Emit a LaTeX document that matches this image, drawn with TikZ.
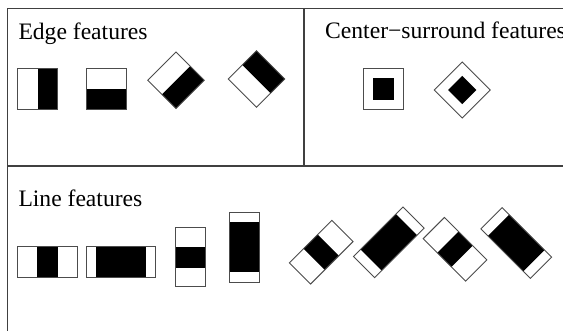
\documentclass[tikz,border=0pt]{standalone}
\usepackage{fontspec}
\setmainfont{Liberation Serif}
\begin{document}
\begin{tikzpicture}[x=1pt,y=-1pt,
  frame/.style={draw=black!75,line width=1.4pt},
  outl/.style={draw=black!70,line width=0.9pt},
  blk/.style={fill=black},
  lbl/.style={anchor=base west,inner sep=0pt,font=\fontsize{23.6}{26}\selectfont}]
\useasboundingbox (0,0) rectangle (563,330);
\clip (0,0) rectangle (563,330);
\fill[white] (0,0) rectangle (563,330);
% frame
\draw[frame] (563,8.5) -- (7.5,8.5) -- (7.5,331);
\draw[frame] (7.5,166) -- (563,166);
\draw[frame] (304,8.5) -- (304,166);
% labels
\node[lbl] (edge) at (18.3,39) {Edge features};
\node[lbl] (cs) at (325,38.3) {Center−surround features};
\node[lbl] (line) at (18.3,206.7) {Line features};
% edge features
\fill[blk] (37.5,68.3) rectangle (57.7,109);
\draw[outl] (17.3,68.3) rectangle (57.7,109);
\fill[blk] (86,88.5) rectangle (126.7,109);
\draw[outl] (86,68.3) rectangle (126.7,109);
\begin{scope}[shift={(176,80.3)},rotate=-45]
  \fill[blk] (0,-20) rectangle (20,20);
  \draw[outl] (-20,-20) rectangle (20,20);
\end{scope}
\begin{scope}[shift={(256.5,79)},rotate=45]
  \fill[blk] (0,-20) rectangle (20,20);
  \draw[outl] (-20,-20) rectangle (20,20);
\end{scope}
% center-surround
\begin{scope}[shift={(383.2,88.7)}]
  \fill[blk] (-10.7,-11) rectangle (10.7,11);
  \draw[outl] (-20.2,-20.3) rectangle (20.2,20.3);
\end{scope}
\begin{scope}[shift={(462.3,90)},rotate=45]
  \fill[blk] (-10,-10) rectangle (10,10);
  \draw[outl] (-19.8,-19.8) rectangle (19.8,19.8);
\end{scope}
% line features
\fill[blk] (37.3,246.7) rectangle (57.5,277.3);
\draw[outl] (17.3,246.7) rectangle (77.3,277.3);
\fill[blk] (96,246.7) rectangle (146.3,277.3);
\draw[outl] (86,246.7) rectangle (155.7,277.3);
\fill[blk] (175,247.3) rectangle (205.5,267.5);
\draw[outl] (175,227.3) rectangle (205.5,286.7);
\fill[blk] (229.3,222.3) rectangle (259.3,272.3);
\draw[outl] (229.3,212.3) rectangle (259.3,282.3);
\begin{scope}[shift={(321.2,252.2)},rotate=45]
  \fill[blk] (-10,-15) rectangle (10,15);
  \draw[outl] (-30,-15) rectangle (30,15);
\end{scope}
\begin{scope}[shift={(388.8,242.3)},rotate=45]
  \fill[blk] (-25,-15) rectangle (25,15);
  \draw[outl] (-35,-15) rectangle (35,15);
\end{scope}
\begin{scope}[shift={(455,249.3)},rotate=-45]
  \fill[blk] (-10,-15) rectangle (10,15);
  \draw[outl] (-30,-15) rectangle (30,15);
\end{scope}
\begin{scope}[shift={(516.3,243)},rotate=-45]
  \fill[blk] (-25,-15) rectangle (25,15);
  \draw[outl] (-35,-15) rectangle (35,15);
\end{scope}
\end{tikzpicture}
\end{document}
